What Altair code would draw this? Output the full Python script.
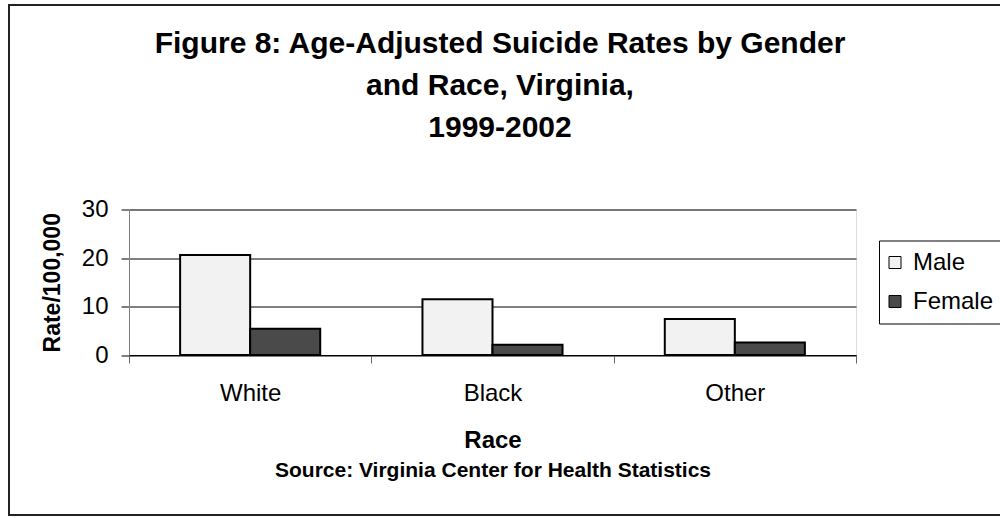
import altair as alt
import pandas as pd

races = ["White", "Black", "Other"]
genders = ["Male", "Female"]
male_rates = [20.6, 11.5, 7.4]
female_rates = [5.4, 2.1, 2.6]
y_ticks = [0, 10, 20, 30]
title_lines = ["Figure 8: Age-Adjusted Suicide Rates by Gender", "and Race, Virginia,", "1999-2002"]
x_title = "Race"
y_title = "Rate/100,000"
source_text = "Source:  Virginia Center for Health Statistics"
gender_colors = ["#F2F2F2", "#4A4A4A"]

rows = []
for r, m, f in zip(races, male_rates, female_rates):
    rows.append({"Race": r, "Gender": "Male", "Rate": m})
    rows.append({"Race": r, "Gender": "Female", "Rate": f})
df = pd.DataFrame(rows)

FONT = "Liberation Sans"
W, H = 727, 145.5
PAD_L, PAD_T = 129, 209.5

bars = alt.Chart(df).mark_bar(stroke="black", strokeWidth=2).encode(
    x=alt.X(
        "Race:N", sort=races,
        scale=alt.Scale(paddingInner=0, paddingOuter=0),
        axis=alt.Axis(
            title=x_title, labelAngle=0, tickBand="extent", tickSize=8, tickColor="#666666",
            domainColor="black", domainWidth=1, labelFont=FONT, labelFontSize=24,
            labelColor="black", labelBaseline="alphabetic", labelPadding=37.7,
            titleFont=FONT, titleFontSize=24, titleFontWeight="bold", titleColor="black",
            titleX=W / 2, titleY=92.3, titleBaseline="alphabetic", titleAlign="center",
        ),
    ),
    xOffset=alt.XOffset("Gender:N", sort=genders,
                        scale=alt.Scale(paddingInner=0, paddingOuter=0.73)),
    y=alt.Y(
        "Rate:Q",
        scale=alt.Scale(domain=[0, 30], nice=False),
        axis=alt.Axis(
            values=y_ticks, title=y_title, tickSize=8, tickColor="black",
            domainColor="#808080", grid=True, gridColor="black", gridWidth=1,
            labelFont=FONT, labelFontSize=24, labelColor="black", labelPadding=13,
            titleFont=FONT, titleFontSize=23, titleFontWeight="bold", titleColor="black",
            titleAngle=270, titleX=-77, titleY=H / 2, titleAlign="center", titleBaseline="middle",
        ),
    ),
    fill=alt.Fill(
        "Gender:N", sort=genders,
        scale=alt.Scale(domain=genders, range=gender_colors),
        legend=alt.Legend(
            title=None, orient="none", legendX=750, legendY=31,
            fillColor="white", strokeColor="black", padding=10,
            symbolType="square", symbolSize=144, symbolStrokeColor="black",
            symbolStrokeWidth=1, symbolOpacity=1, symbolOffset=-6,
            labelFont=FONT, labelFontSize=24,
            labelColor="black", rowPadding=15, labelOffset=6,
        ),
    ),
)

one = alt.Data(values=[{}])

title = alt.Chart(one).mark_text(
    font=FONT, fontSize=30, fontWeight="bold", color="black",
    align="center", baseline="alphabetic", lineHeight=42,
).encode(
    x=alt.value(500 - PAD_L), y=alt.value(53.3 - PAD_T), text=alt.value(title_lines)
)

source = alt.Chart(one).mark_text(
    font=FONT, fontSize=21, fontWeight="bold", color="black",
    align="center", baseline="alphabetic",
).encode(
    x=alt.value(493 - PAD_L), y=alt.value(477.3 - PAD_T), text=alt.value(source_text)
)

border = alt.Chart(one).mark_rect(
    fillOpacity=0, stroke="#222222", strokeWidth=2
).encode(
    x=alt.value(9 - PAD_L), x2=alt.value(1010 - PAD_L),
    y=alt.value(5 - PAD_T), y2=alt.value(515 - PAD_T),
)

chart = alt.layer(bars, title, source, border).properties(
    width=W, height=H,
    autosize=alt.AutoSizeParams(type="none"),
    padding={"left": PAD_L, "top": PAD_T, "right": 1000 - PAD_L - W, "bottom": 518 - PAD_T - H},
).configure_view(
    fill="#C0C0C0", stroke="#808080", strokeWidth=1
).configure(background="white")

chart.save("out.html", embed_options={"renderer": "svg", "actions": False})
